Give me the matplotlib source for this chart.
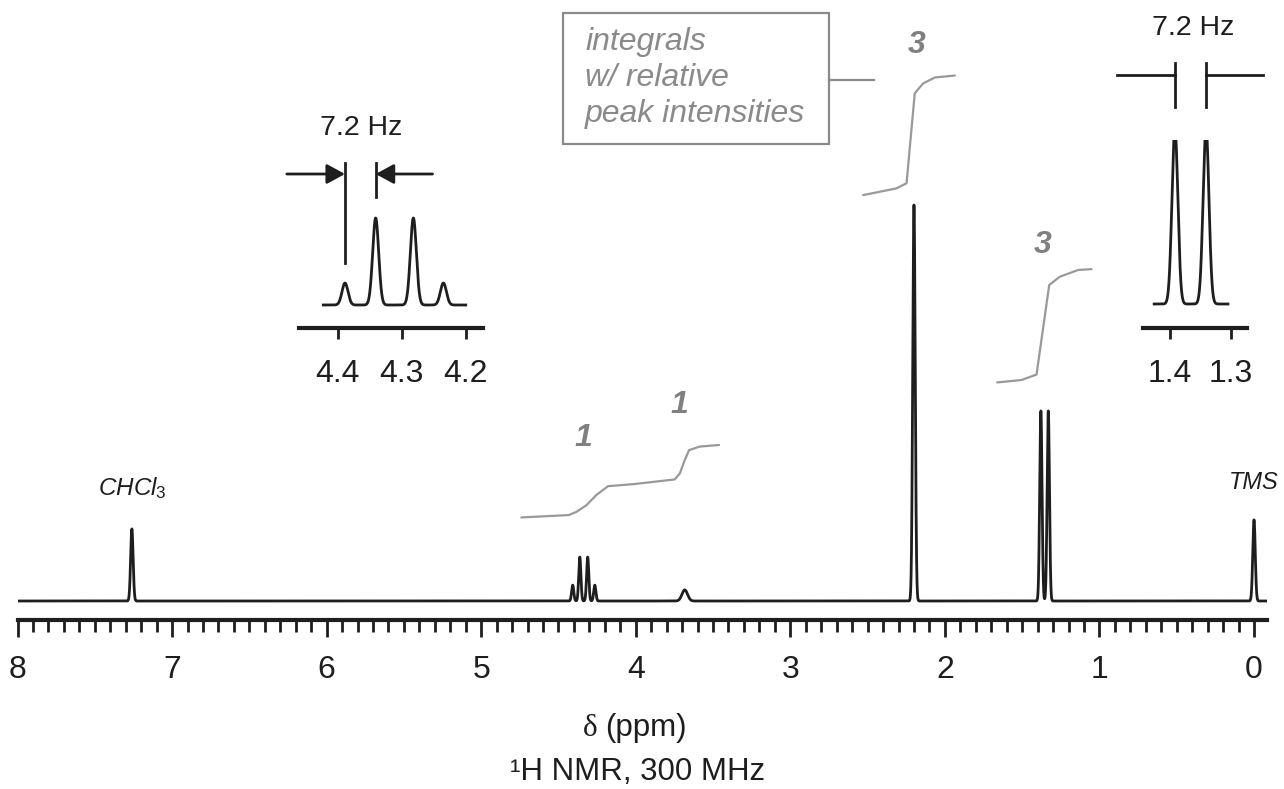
import numpy as np
import matplotlib
matplotlib.use('Agg')
import matplotlib.pyplot as plt
from matplotlib.patches import Rectangle
from matplotlib.lines import Line2D

plt.rcParams['font.family'] = ['Liberation Sans', 'DejaVu Sans']
plt.rcParams['mathtext.fontset'] = 'custom'
plt.rcParams['mathtext.rm'] = 'Liberation Sans'
plt.rcParams['mathtext.it'] = 'Liberation Sans:italic'

# full spectrum: peak position (ppm), height (singlet = 100), gaussian width (ppm)
peak_ppm = [7.26, 4.408, 4.362, 4.311, 4.265, 3.683, 2.20, 1.379, 1.331, 0.0]
peak_height = [18.2, 4.0, 11.1, 11.1, 4.0, 2.8, 100, 48, 48, 20.5]
peak_width = [0.008, 0.007, 0.007, 0.007, 0.007, 0.018, 0.008, 0.0075, 0.0075, 0.008]

# integral traces (ppm, height)
int1_ppm = [4.74, 4.434, 4.384, 4.319, 4.254, 4.179, 4.017, 3.748, 3.715, 3.683, 3.655, 3.586, 3.461]
int1_val = [21.1, 21.7, 22.5, 24.2, 26.8, 29.0, 29.5, 30.7, 32.2, 35.6, 38.1, 39.0, 39.4]
int2_ppm = [2.529, 2.313, 2.248, 2.195, 2.141, 2.065, 1.935]
int2_val = [102.5, 104.2, 105.5, 128.2, 130.7, 132.2, 132.7]
int3_ppm = [1.662, 1.504, 1.407, 1.325, 1.256, 1.137, 1.051]
int3_val = [55.2, 55.8, 57.2, 79.8, 81.9, 83.6, 83.8]
int_labels = ['1', '1', '3', '3']
int_label_ppm = [4.342, 3.715, 2.181, 1.366]
int_label_val = [41.2, 49.5, 140.4, 89.9]

# expansions
quartet_zoom_ppm = [4.389, 4.341, 4.282, 4.235]
quartet_zoom_height = [22, 87, 87, 22]
doublet_zoom_ppm = [1.392, 1.341]
doublet_zoom_height = [176, 176]

W, H = 1284, 789
INK = '#1e1e1e'
GRAY = '#999999'
TGRAY = '#8a8a8a'


def fx(x):
    return x / W


def fy(y):
    return 1 - y / H


def gauss(x, pos, hts, wid):
    y = np.zeros_like(x)
    for p, h, w in zip(pos, hts, wid):
        y += h * np.exp(-0.5 * ((x - p) / w) ** 2)
    return y


fig = plt.figure(figsize=(W / 100, H / 100), dpi=100)

# main spectrum
ax = fig.add_axes([fx(17.5), fy(620), fx(1267 - 17.5), 620 / H])
x = np.linspace(8.0, -0.084, 40000)
ax.plot(x, gauss(x, peak_ppm, peak_height, peak_width), color=INK, lw=2.0)
ax.set_xlim(8.0, -0.084)
ax.set_ylim(-19 / 3.96, 601 / 3.96)
for s in ['top', 'left', 'right']:
    ax.spines[s].set_visible(False)
ax.spines['bottom'].set_linewidth(3)
ax.spines['bottom'].set_color(INK)
ax.set_yticks([])
ax.set_xticks(np.arange(0, 9, 1))
ax.set_xticks(np.arange(0, 8.01, 0.1), minor=True)
ax.tick_params(axis='x', which='major', length=12, width=2, color=INK, pad=13,
               labelsize=23, labelcolor=INK)
ax.tick_params(axis='x', which='minor', length=8.5, width=2, color=INK)
ax.patch.set_visible(False)

for px, pv in [(int1_ppm, int1_val), (int2_ppm, int2_val), (int3_ppm, int3_val)]:
    ax.plot(px, pv, color=GRAY, lw=1.6, solid_joinstyle='round', solid_capstyle='round')
for t, px, pv in zip(int_labels, int_label_ppm, int_label_val):
    ax.text(px, pv, t, color='#808080', fontsize=23, fontweight='bold', fontstyle='italic',
            ha='center', va='center')

ax.text(7.26, 28.5, r'$\mathit{CHCl}_\mathit{3}$', fontsize=17.5, color=INK, ha='center', va='center')
ax.text(0.0, 30.0, 'TMS', fontsize=17, fontstyle='italic', color=INK, ha='center', va='center')

# left expansion (quartet)
ax1 = fig.add_axes([fx(299), fy(328), fx(483 - 299), 188 / H])
xq = np.linspace(4.423, 4.20, 3000)
ax1.plot(xq, gauss(xq, quartet_zoom_ppm, quartet_zoom_height, [0.0047] * 4), color=INK, lw=2.0)
ax1.set_xlim(4.461, 4.173)
ax1.set_ylim(-23, 165)
ax1.set_xticks([4.4, 4.3, 4.2])
ax1.set_xticklabels(['4.4', '4.3', '4.2'])
ax1.set_yticks([])
ax1.tick_params(axis='x', length=8, width=2, color=INK, pad=14, labelsize=23, labelcolor=INK)
# J markers
q0, q1 = quartet_zoom_ppm[0], quartet_zoom_ppm[1]
ax1.plot([q0, q0], [42, 142], color=INK, lw=2, clip_on=False)
ax1.plot([q1, q1], [108, 142], color=INK, lw=2, clip_on=False)
arrow = dict(arrowstyle='-|>,head_length=0.55,head_width=0.3', mutation_scale=20,
             color=INK, lw=2, shrinkA=0, shrinkB=0)
ax1.annotate('', xy=(q0, 131), xytext=(4.480, 131), arrowprops=arrow, annotation_clip=False)
ax1.annotate('', xy=(q1, 131), xytext=(4.252, 131), arrowprops=arrow, annotation_clip=False)

# right expansion (doublet)
ax2 = fig.add_axes([fx(1143), fy(328), fx(1247 - 1143), 188 / H])
xd = np.linspace(1.426, 1.305, 3000)
ax2.plot(xd, gauss(xd, doublet_zoom_ppm, doublet_zoom_height, [0.0048] * 2), color=INK, lw=2.0)
ax2.set_xlim(1.4443, 1.2738)
ax2.set_ylim(-24, 164)
ax2.set_xticks([1.4, 1.3])
ax2.set_xticklabels(['1.4', '1.3'])
ax2.set_yticks([])
ax2.tick_params(axis='x', length=8, width=2, color=INK, pad=14, labelsize=23, labelcolor=INK)
d0, d1 = doublet_zoom_ppm
ax2.plot([d0, d0], [197, 241], color=INK, lw=2, clip_on=False)
ax2.plot([d1, d1], [197, 241], color=INK, lw=2, clip_on=False)
ax2.plot([1.487, d0], [229, 229], color=INK, lw=2, clip_on=False)
ax2.plot([d1, 1.2475], [229, 229], color=INK, lw=2, clip_on=False)

for a in (ax1, ax2):
    for s in ['top', 'left', 'right']:
        a.spines[s].set_visible(False)
    a.spines['bottom'].set_linewidth(3)
    a.spines['bottom'].set_color(INK)
    a.patch.set_visible(False)

fig.text(fx(361), fy(128), '7.2 Hz', fontsize=20.5, color=INK, ha='center', va='center')
fig.text(fx(1193), fy(28), '7.2 Hz', fontsize=20.5, color=INK, ha='center', va='center')

# legend box for the integrals
fig.patches.append(Rectangle((fx(563), fy(144)), fx(829 - 563), (144 - 13) / H,
                             transform=fig.transFigure, fill=False, edgecolor=TGRAY, lw=1.6))
for t, yy in zip(['integrals', 'w/ relative', 'peak intensities'], [42, 78, 114]):
    fig.text(fx(585), fy(yy), t, fontsize=23, fontstyle='italic', color=TGRAY, ha='left', va='center')
fig.lines.append(Line2D([fx(829), fx(874)], [fy(80), fy(80)], transform=fig.transFigure,
                        color=TGRAY, lw=1.6))

# axis titles
fig.text(fx(597), fy(728), 'δ', fontsize=22.5, family=['Liberation Serif', 'DejaVu Serif'],
         color=INK, ha='right', va='center')
fig.text(fx(605), fy(728), '(ppm)', fontsize=22.5, color=INK, ha='left', va='center')
fig.text(fx(637), fy(772), '¹H NMR, 300 MHz', fontsize=22.5, color=INK, ha='center', va='center')

fig.savefig('out.png', dpi=100)
